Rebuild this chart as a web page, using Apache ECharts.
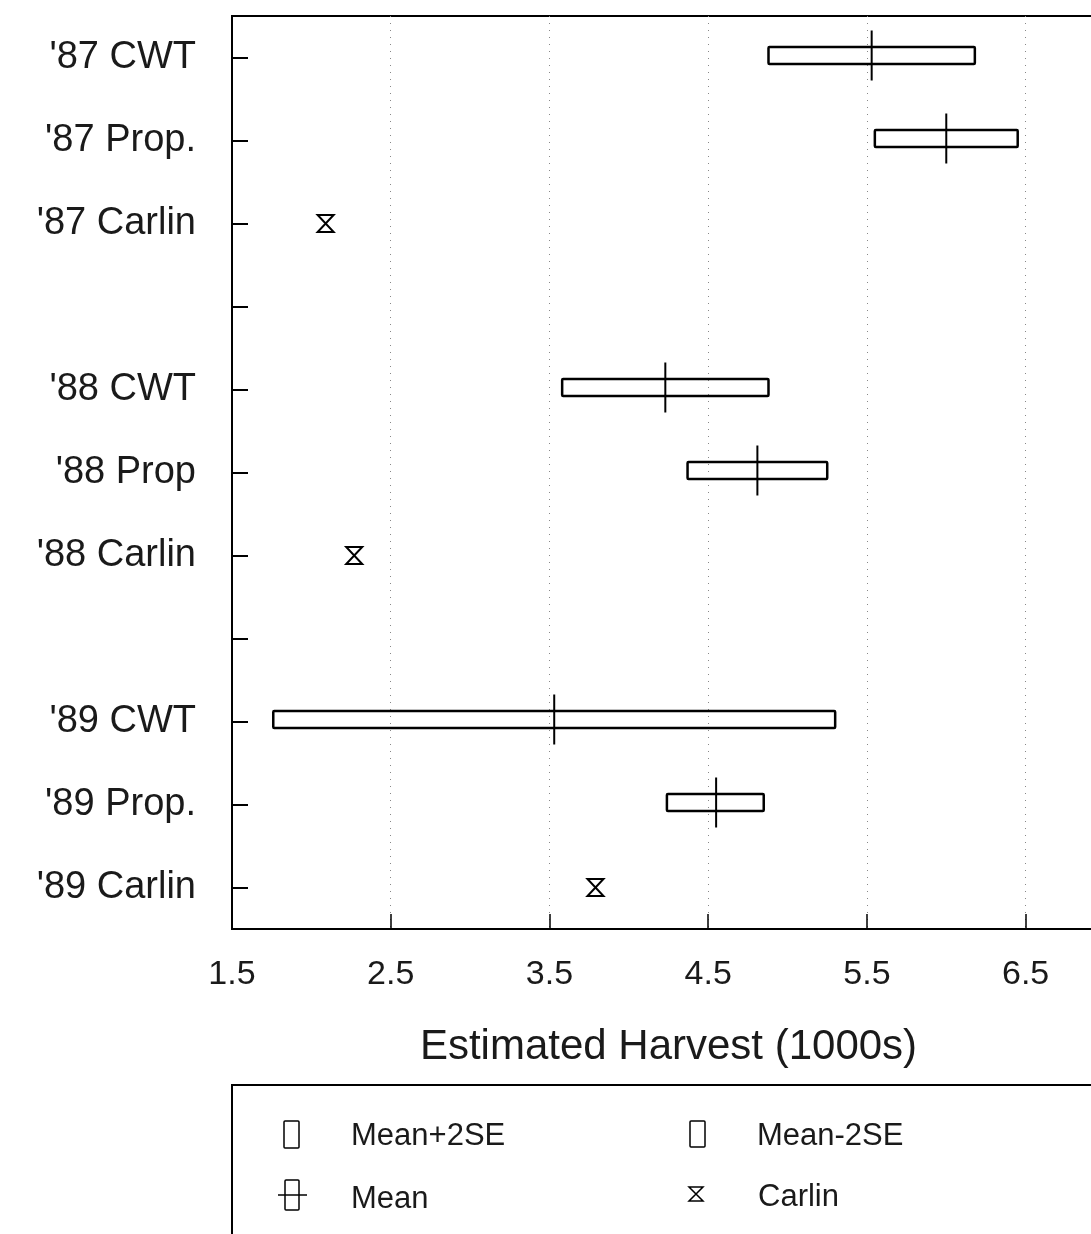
<!DOCTYPE html>
<html>
<head>
<meta charset="utf-8">
<script src="https://cdn.jsdelivr.net/npm/echarts@6/dist/echarts.min.js"></script>
<style>
html,body{margin:0;padding:0;background:#fff;overflow:hidden;width:1091px;height:1234px;}
#chart{width:1130px;height:1234px;}
</style>
</head>
<body>
<div id="chart"></div>
<script>
// ---- data ----
const categories = ["'87 CWT", "'87 Prop.", "'87 Carlin", " ", "'88 CWT", "'88 Prop", "'88 Carlin", "  ", "'89 CWT", "'89 Prop.", "'89 Carlin"];
// Mean - 2SE, Mean + 2SE, Mean (null where no estimate)
const lowerValues = [4.88, 5.55, null, null, 3.58, 4.37, null, null, 1.76, 4.24, null];
const upperValues = [6.18, 6.45, null, null, 4.88, 5.25, null, null, 5.30, 4.85, null];
const meanValues  = [5.53, 6.00, null, null, 4.23, 4.81, null, null, 3.53, 4.55, null];
const carlinValues = [null, null, 2.09, null, null, null, 2.27, null, null, null, 3.79];
const xTicks = [1.5, 2.5, 3.5, 4.5, 5.5, 6.5];
const xTitle = 'Estimated Harvest (1000s)';
const legendNames = ['Mean+2SE', 'Mean-2SE', 'Mean', 'Carlin'];

const boxData = [];
categories.forEach((c, i) => {
  if (meanValues[i] != null) boxData.push([i, lowerValues[i], upperValues[i], meanValues[i]]);
});
const carlinData = [];
categories.forEach((c, i) => {
  if (carlinValues[i] != null) carlinData.push([i, carlinValues[i]]);
});

const FONT = 'Liberation Sans';
const TXT = '#1a1a1a';
const chart = echarts.init(document.getElementById('chart'), null, {renderer: 'canvas'});

const option = {
  backgroundColor: '#fff',
  animation: false,
  grid: {
    left: 232, top: 16, width: 873, height: 913,
    show: true, borderColor: '#000', borderWidth: 2, backgroundColor: 'transparent'
  },
  xAxis: {
    type: 'value', min: 1.5, max: 7, interval: 1,
    axisLine: {show: true, lineStyle: {color: '#000', width: 2}},
    axisTick: {show: true, inside: true, length: 15, lineStyle: {color: '#000', width: 1.5}},
    axisLabel: {
      show: true, margin: 29, color: TXT, fontFamily: FONT, fontSize: 34,
      showMaxLabel: false,
      formatter: v => xTicks.includes(Math.round(v * 10) / 10) ? v.toFixed(1) : ''
    },
    splitLine: {show: true, lineStyle: {color: '#888', width: 1, type: [1, 6]}},
    name: xTitle, nameLocation: 'middle', nameGap: 97,
    nameTextStyle: {color: TXT, fontFamily: FONT, fontSize: 42}
  },
  yAxis: {
    type: 'category', data: categories, inverse: true,
    axisLine: {show: true, lineStyle: {color: '#000', width: 2}},
    axisTick: {show: true, inside: true, length: 16, alignWithLabel: true, interval: 0, lineStyle: {color: '#000', width: 2}},
    axisLabel: {interval: 0, margin: 36, color: TXT, fontFamily: FONT, fontSize: 38},
    splitLine: {show: false}
  },
  series: [
    {
      name: 'Mean',
      type: 'custom',
      data: boxData,
      encode: {x: [1, 2, 3], y: 0},
      renderItem: function (params, api) {
        const yi = api.value(0);
        const p1 = api.coord([api.value(1), yi]);
        const p2 = api.coord([api.value(2), yi]);
        const pm = api.coord([api.value(3), yi]);
        const h = 17;
        const cy = p1[1] - 2;
        return {
          type: 'group',
          children: [
            {type: 'rect', shape: {x: p1[0], y: cy - h / 2, width: p2[0] - p1[0], height: h, r: 1},
             style: {fill: 'transparent', stroke: '#000', lineWidth: 2.5}},
            {type: 'line', shape: {x1: pm[0], y1: cy - 25, x2: pm[0], y2: cy + 25},
             style: {stroke: '#000', lineWidth: 2}}
          ]
        };
      },
      z: 5
    },
    {
      name: 'Carlin',
      type: 'custom',
      data: carlinData,
      encode: {x: 1, y: 0},
      renderItem: function (params, api) {
        const p = api.coord([api.value(1), api.value(0)]);
        const w = 8, h = 8.5;
        return {
          type: 'polygon',
          shape: {points: [[p[0] - w, p[1] - h], [p[0] + w, p[1] - h], [p[0] - w, p[1] + h], [p[0] + w, p[1] + h]]},
          style: {fill: 'transparent', stroke: '#000', lineWidth: 2, lineJoin: 'miter'}
        };
      },
      z: 5
    }
  ],
  graphic: [
    {type: 'rect', shape: {x: 232, y: 1085, width: 900, height: 200},
     style: {fill: 'transparent', stroke: '#000', lineWidth: 2}},
    // Mean+2SE symbol
    {type: 'rect', shape: {x: 284, y: 1121, width: 15, height: 27, r: 1},
     style: {fill: 'transparent', stroke: '#000', lineWidth: 1.5}},
    {type: 'text', left: 351, top: 1121,
     style: {text: legendNames[0], fill: TXT, font: '31px "Liberation Sans"'}},
    // Mean-2SE symbol
    {type: 'rect', shape: {x: 690, y: 1121, width: 15, height: 26, r: 1},
     style: {fill: 'transparent', stroke: '#000', lineWidth: 1.5}},
    {type: 'text', left: 757, top: 1121,
     style: {text: legendNames[1], fill: TXT, font: '31px "Liberation Sans"'}},
    // Mean symbol
    {type: 'rect', shape: {x: 285, y: 1180, width: 14, height: 30, r: 1},
     style: {fill: 'transparent', stroke: '#000', lineWidth: 1.5}},
    {type: 'line', shape: {x1: 278, y1: 1195, x2: 307, y2: 1195},
     style: {stroke: '#000', lineWidth: 1.5}},
    {type: 'text', left: 351, top: 1184,
     style: {text: legendNames[2], fill: TXT, font: '31px "Liberation Sans"'}},
    // Carlin symbol
    {type: 'polygon', shape: {points: [[689, 1187], [703, 1187], [689, 1201], [703, 1201]]},
     style: {fill: 'transparent', stroke: '#000', lineWidth: 1.5}},
    {type: 'text', left: 758, top: 1182,
     style: {text: legendNames[3], fill: TXT, font: '31px "Liberation Sans"'}}
  ]
};
chart.setOption(option);
</script>
</body>
</html>
